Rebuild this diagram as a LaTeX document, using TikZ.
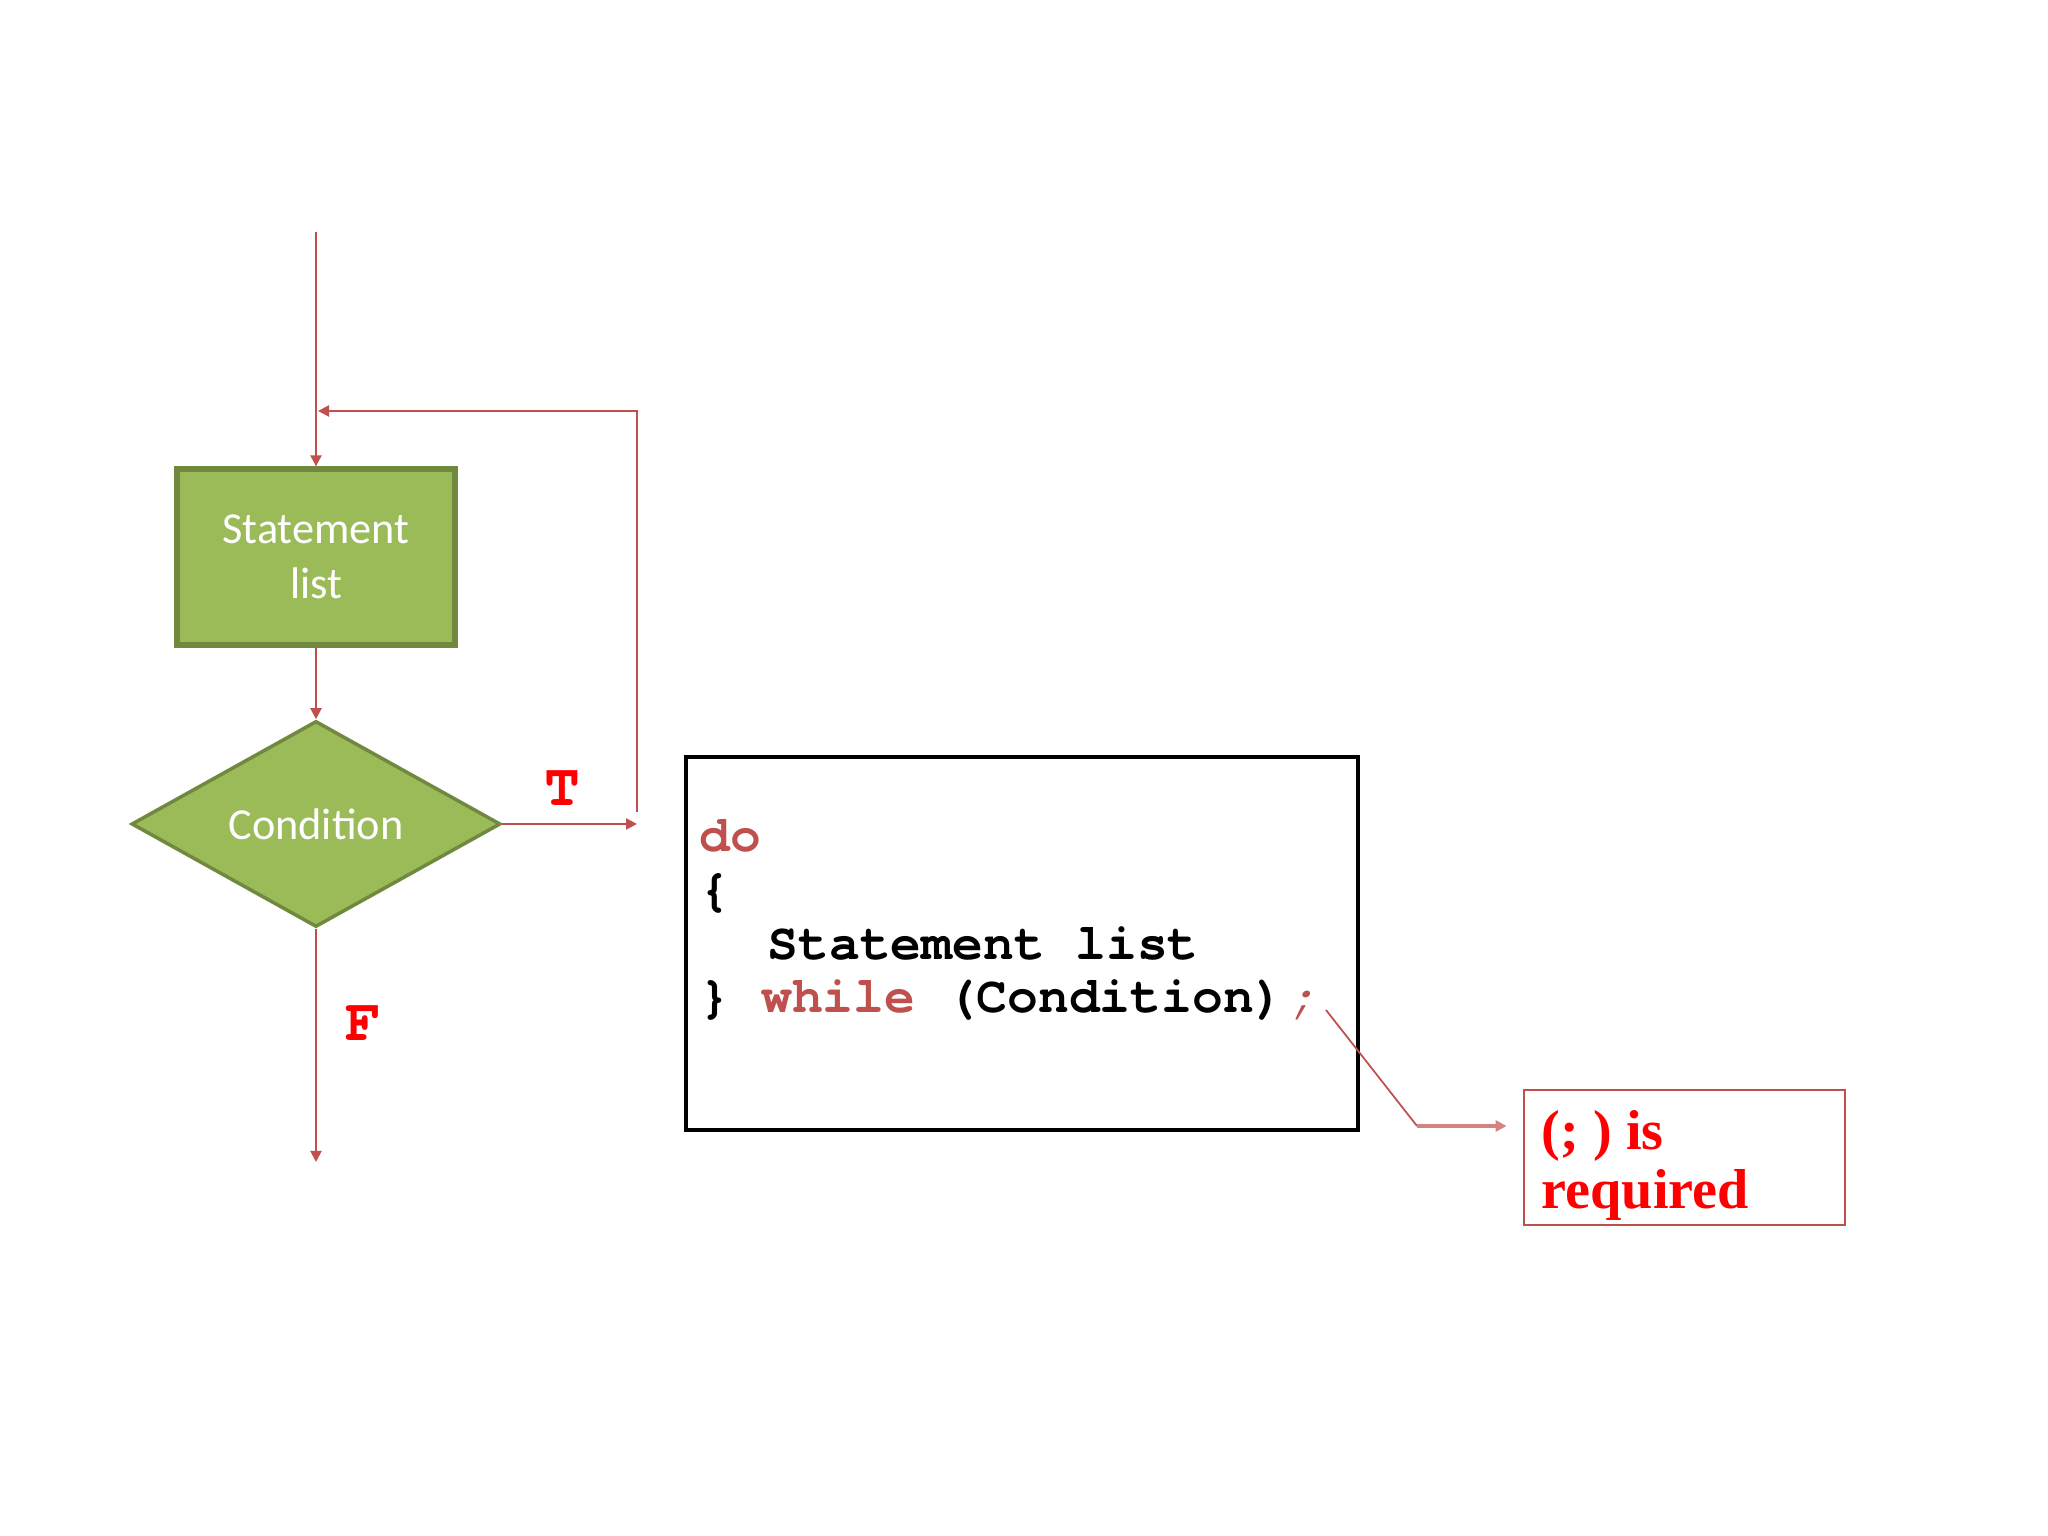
\documentclass[tikz,border=0pt]{standalone}
\usepackage{fontspec}
\usepackage{xcolor}
\usepackage{tikz}
\usetikzlibrary{shapes.geometric, arrows.meta, positioning, calc}
\newfontfamily\boxfont{Carlito}
\newfontfamily\codefont{texgyrecursor}[Extension=.otf, UprightFont=*-regular, BoldFont=*-bold, ItalicFont=*-italic, BoldItalicFont=*-bolditalic]
\newfontfamily\notefont{Liberation Serif}
\definecolor{flowred}{RGB}{192,80,77}
\definecolor{boxgreen}{RGB}{155,187,89}
\definecolor{boxedge}{RGB}{113,137,63}
\definecolor{keyword}{RGB}{192,80,77}
\definecolor{alertred}{RGB}{255,0,0}

\begin{document}
\begin{tikzpicture}[
    stmtbox/.style={draw=boxedge, line width=1.5pt, fill=boxgreen, minimum width=2.78cm, minimum height=1.76cm, text=white, font=\boxfont\fontsize{12.6}{15.6}\selectfont, align=center},
    decision/.style={diamond, draw=boxedge, line width=1pt, fill=boxgreen, aspect=1.79, minimum width=3.69cm, minimum height=2.06cm, inner sep=0pt, text=white, font=\boxfont\fontsize{12.6}{15.6}\selectfont},
    codebox/.style={draw=black, line width=1pt, minimum width=6.72cm, minimum height=3.73cm},
    codeline/.style={anchor=base west, inner sep=0pt, font=\codefont\bfseries\fontsize{14.6}{15.6}\selectfont},
    notebox/.style={draw=flowred, line width=0.8pt, minimum width=3.21cm, minimum height=1.35cm},
    notetext/.style={anchor=base west, inner sep=0pt, text=alertred, font=\notefont\bfseries\fontsize{16}{17}\selectfont},
    branch/.style={text=alertred, font=\codefont\bfseries\fontsize{17}{18}\selectfont},
    arrow/.style={-{Triangle[length=1.1mm, width=1.1mm]}, draw=flowred, line width=0.6pt}
]
    \useasboundingbox (0,0) rectangle (20.48,15.36);

    % flowchart
    \coordinate (entry) at (3.16,13.04);
    \node[stmtbox] (stmt) at (3.16,9.79) {Statement\\list};
    \node[decision] (cond) at (3.16,7.12) {Condition};
    \coordinate (tend) at (6.37,7.12);
    \coordinate (tgap) at (6.37,7.24);
    \coordinate (merge) at (3.18,11.25);
    \coordinate (exit) at (3.16,3.74);
    \node[branch] (tlabel) at (5.62,7.48) {T};
    \node[branch] (flabel) at (3.63,5.13) {F};

    \draw[arrow] (entry) -- (stmt);
    \draw[arrow] (stmt) -- (cond);
    \draw[arrow] (cond) -- (tend);
    \draw[arrow] (tgap) |- (merge);
    \draw[arrow] (cond) -- (exit);

    % code
    \node[codebox] (code) at (10.22,5.925) {};
    \node[codeline] (line1) at (6.99,6.84) {\textcolor{keyword}{do}};
    \node[codeline] (line2) at (6.99,6.30) {\{};
    \node[codeline] (line3) at (7.67,5.76) {Statement list};
    \node[codeline] (line4) at (6.99,5.23) {\} \textcolor{keyword}{while} (Condition)\hspace{0.05em}\textcolor{keyword}{\mdseries\itshape;}};

    % note
    \node[notebox] (note) at (16.845,3.785) {};
    \node[notetext] (note1) at (15.41,3.86) {(; ) is};
    \node[notetext] (note2) at (15.41,3.27) {required};
    \coordinate (semi) at (13.26,5.26);
    \coordinate (knee) at (14.17,4.10);
    \draw[draw=flowred, line width=0.5pt] (semi) -- (knee);
    \draw[arrow, draw=flowred!70, line width=1.2pt, shorten >=0.16cm] (knee) -- (knee -| note.west);
\end{tikzpicture}
\end{document}
